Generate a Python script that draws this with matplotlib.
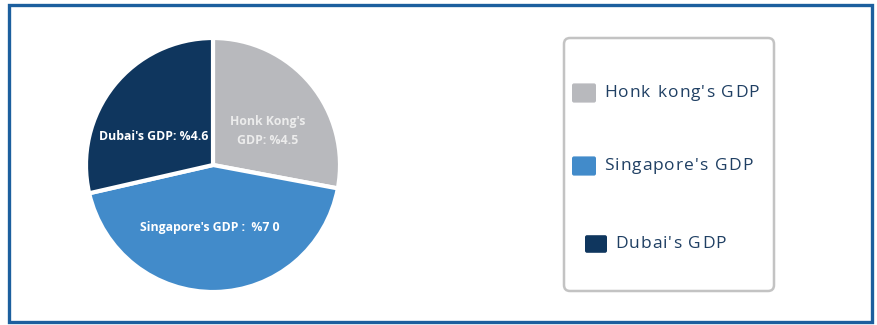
import matplotlib.pyplot as plt
from matplotlib.patches import FancyBboxPatch, Rectangle

# data
regions = ["Honk Kong", "Singapore", "Dubai"]
gdp = [4.5, 7.0, 4.6]
slice_labels = ["Honk Kong's\nGDP: %4.5", "Singapore's GDP :  %7 0", "Dubai's GDP: %4.6"]
legend_labels = ["Honk kong's GDP", "Singapore's GDP", "Dubai's GDP"]
colors = ["#b8b9bd", "#428bca", "#0f365e"]

W, H = 877, 325
fig = plt.figure(figsize=(W / 100, H / 100), dpi=100)
ax = fig.add_axes([0, 0, 1, 1])

def py(y):
    # pixel row (from top) -> data y
    return H - y

# pie
wedges, _ = ax.pie(gdp, colors=colors, startangle=90, counterclock=False,
                   center=(213, py(165)), radius=127, frame=True,
                   wedgeprops=dict(edgecolor="white", linewidth=3))
ax.set_xlim(0, W)
ax.set_ylim(0, H)
ax.set_aspect("equal")
ax.axis("off")

# outer frame
ax.add_patch(Rectangle((9, py(322)), 863, 317, fill=False,
                       edgecolor="#1c5f9e", linewidth=2.4))

lab_font = dict(family="Open Sans", fontweight="bold", fontsize=8.8, ha="center", va="center")
ax.text(268, py(131), slice_labels[0], color="#ececec", linespacing=1.5, **lab_font)
ax.text(210, py(228), slice_labels[1], color="white", **lab_font)
ax.text(154, py(137), slice_labels[2], color="white", **lab_font)

# legend box
ax.add_patch(FancyBboxPatch((564, py(291)), 210, 253,
                            boxstyle="round,pad=0,rounding_size=6",
                            fill=False, edgecolor="#c3c3c3", linewidth=1.8))

renderer = fig.canvas.get_renderer()

def spaced_text(x, y, s, track, **kw):
    # draw text one glyph at a time to get the wide letter spacing
    for ch in s:
        t = ax.text(x, y, ch, ha="left", va="center", **kw)
        if ch == " ":
            ref = ax.text(0, 0, "n", **kw)
            w = ref.get_window_extent(renderer).width * 0.5
            ref.remove()
        else:
            w = t.get_window_extent(renderer).width
        x += w + track

legend_pos = [(572, 93, 604), (572, 166, 604), (585, 244, 615)]
sq = [24, 24, 22]
for (sx, sy, tx), s, c, lab in zip(legend_pos, sq, colors, legend_labels):
    ax.add_patch(FancyBboxPatch((sx, py(sy) - s * 0.4), s, s * 0.8,
                                boxstyle="round,pad=0,rounding_size=2",
                                facecolor=c, edgecolor="none"))
    spaced_text(tx, py(sy), lab, 1.0, family="Open Sans", fontsize=12.5,
                color="#1f3f63")

fig.savefig("out.png", dpi=100)
